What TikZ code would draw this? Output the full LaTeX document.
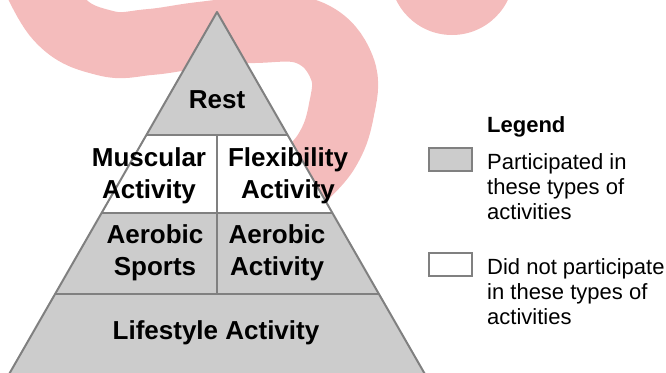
\documentclass[tikz,border=0pt]{standalone}
\usepackage{fontspec}
\setmainfont{Liberation Sans}
\definecolor{wmpink}{RGB}{244,188,188}
\definecolor{pyrgray}{RGB}{204,204,204}
\definecolor{edgegray}{RGB}{128,128,128}

\begin{document}
\begin{tikzpicture}[x=1pt, y=-1pt,
        lbl/.style={font=\fontsize{26}{32}\selectfont\bfseries, align=center, inner sep=0pt},
        legtxt/.style={font=\fontsize{22}{25}\selectfont, align=left, anchor=west, inner sep=0pt},
        keybox/.style={draw=edgegray, line width=2pt, minimum width=43pt, minimum height=23pt, inner sep=0pt}]
                \useasboundingbox (0,0) rectangle (666,372);
                \begin{scope}[wmpink]
                    \draw[line width=66pt] plot[smooth, tension=0.7] coordinates {(25,-45) (58,18) (105,43) (150,42) (200,35) (255,30) (310,33) (342,68) (341,112) (326,152) (298,182)};
                    \fill (452,-27) circle (62pt);
                \end{scope}
                \coordinate (apex) at (217,12);
                \coordinate (bl) at (8,376);
                \coordinate (br) at (426,376);
                \fill[pyrgray] (apex) -- (bl) -- (br) -- cycle;
                \fill[white] (146,135) -- (288,135) -- (333,213) -- (101,213) -- cycle;
                \draw[edgegray, line width=2pt] (146,135) -- (288,135) (101,213) -- (333,213) (55,294) -- (379,294) (217,135) -- (217,294);
                \draw[edgegray, line width=2pt, line join=round] (bl) -- (apex) -- (br);
                \node[lbl] (rest) at (217,100) {Rest};
                \node[lbl] (muscular) at (149,176) {Muscular\\Activity};
                \node[lbl] (flexibility) at (288,176) {Flexibility\\Activity};
                \node[lbl] (aerosports) at (155,253) {Aerobic\\Sports};
                \node[lbl] (aeroactivity) at (277,253) {Aerobic\\Activity};
                \node[lbl] (lifestyle) at (216,333) {Lifestyle Activity};
                \node[font=\fontsize{22}{25}\selectfont\bfseries, anchor=west, inner sep=0pt] (legend) at (487,127) {Legend};
                \node[keybox, fill=pyrgray] (keydone) at (450.5,159.5) {};
                \node[keybox, fill=white] (keynot) at (450.5,264.5) {};
                \node[legtxt] (txtdone) at (487,187) {Participated in\\these types of\\activities};
                \node[legtxt] (txtnot) at (487,292) {Did not participate\\in these types of\\activities};
            \end{tikzpicture}
\end{document}
